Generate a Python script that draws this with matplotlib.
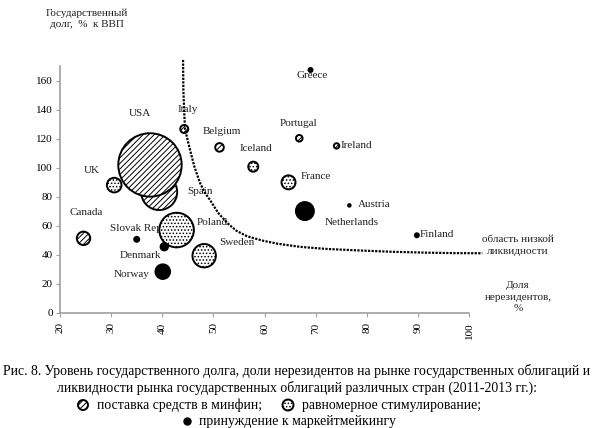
import matplotlib
matplotlib.use('Agg')
import matplotlib.pyplot as plt

plt.rcParams['font.family'] = ['Liberation Serif', 'DejaVu Serif']
plt.rcParams['hatch.linewidth'] = 0.7

# ---- data ----
countries = ['Spain', 'USA', 'Canada', 'Italy', 'Belgium', 'Portugal', 'Ireland',
             'UK', 'Poland', 'Sweden', 'Iceland', 'France',
             'Slovak Rep', 'Denmark', 'Norway', 'Netherlands', 'Greece', 'Austria', 'Finland']
nonres = [39.4, 37.6, 24.6, 44.3, 51.2, 66.8, 74.1,
          30.6, 42.8, 48.2, 57.8, 64.7,
          35.0, 40.4, 40.1, 67.9, 69.0, 76.6, 89.8]
debt = [83.2, 101.9, 51.3, 126.7, 114.0, 120.3, 115.0,
        88.0, 57.0, 39.3, 100.7, 89.9,
        50.6, 45.5, 28.3, 70.1, 167.4, 74.0, 53.4]
liquidity = [18.0, 31.7, 6.7, 4.0, 4.3, 3.3, 2.7,
             7.3, 17.3, 11.7, 5.0, 7.0,
             2.5, 3.7, 7.3, 9.0, 2.0, 1.3, 2.0]
group = ['hatch'] * 7 + ['dots'] * 5 + ['black'] * 7

# boundary of the low-liquidity area
curve_x = [44.07, 44.13, 44.3, 44.46, 45.0, 45.44, 46.3, 47.4, 48.3, 49.35, 50.9, 52.7,
           54.5, 56.6, 59.5, 62.5, 67.0, 72.0, 78.7, 85.0, 91.8, 97.0, 102.6]
curve_y = [174.3, 153.6, 138.0, 126.7, 118.5, 112.2, 100.5, 89.4, 83.0, 77.7, 69.0, 61.9,
           56.5, 52.7, 49.8, 47.6, 45.4, 44.0, 42.9, 42.0, 41.4, 41.1, 41.0]

x_ticks = [20, 30, 40, 50, 60, 70, 80, 90, 100]
y_ticks = [0, 20, 40, 60, 80, 100, 120, 140, 160]

W, H = 595, 428
fig = plt.figure(figsize=(W / 100, H / 100), dpi=100)
ax = fig.add_axes([60 / W, 1 - 312.7 / H, 409 / W, (312.7 - 66.2) / H])
ax.set_xlim(20, 100)
ax.set_ylim(0, 170)

for side in ('top', 'right'):
    ax.spines[side].set_visible(False)
for side in ('left', 'bottom'):
    ax.spines[side].set_color('#a0a0a0')
    ax.spines[side].set_linewidth(1.2)
ax.set_xticks(x_ticks)
ax.set_xticklabels([str(v) for v in x_ticks], rotation=90)
ax.set_yticks(y_ticks)
ax.tick_params(direction='out', length=3, color='#a0a0a0', labelsize=8, pad=2)
ax.tick_params(axis='x', pad=4)

styles = {
    'hatch': dict(facecolor='white', hatch='//////'),
    'dots': dict(facecolor='white', hatch='.....'),
    'black': dict(facecolor='black'),
}
for g in ['hatch', 'dots', 'black']:
    xs = [x for x, gg in zip(nonres, group) if gg == g]
    ys = [y for y, gg in zip(debt, group) if gg == g]
    ss = [(1.44 * r) ** 2 for r, gg in zip(liquidity, group) if gg == g]
    ax.scatter(xs, ys, s=ss, edgecolor='black', linewidth=1.4, zorder=3, **styles[g])

ax.plot(curve_x, curve_y, linestyle=(0, (1, 0.6)), color='black', linewidth=1.6,
        clip_on=False, zorder=5)

labels = {
    'USA': (35.66, 137.7, 'center'), 'Italy': (45.05, 139.8, 'center'),
    'Belgium': (51.64, 125.3, 'center'), 'Iceland': (58.36, 112.9, 'center'),
    'Portugal': (66.58, 130.8, 'center'), 'Greece': (69.26, 163.4, 'center'),
    'Ireland': (74.8, 115.0, 'left'), 'France': (70.1, 93.6, 'center'),
    'Austria': (81.45, 74.3, 'center'), 'Netherlands': (77.1, 61.9, 'center'),
    'Finland': (93.8, 53.6, 'center'), 'UK': (26.26, 98.4, 'center'),
    'Spain': (47.4, 83.4, 'center'), 'Canada': (25.1, 68.8, 'center'),
    'Slovak Rep': (34.8, 58.2, 'center'), 'Poland': (49.7, 62.1, 'center'),
    'Sweden': (54.6, 48.3, 'center'), 'Denmark': (35.66, 39.3, 'center'),
    'Norway': (34.1, 26.5, 'center'),
}
for name, (lx, ly, ha) in labels.items():
    z = 2 if name == 'Slovak Rep' else 4
    ax.text(lx, ly, name, fontsize=8, ha=ha, va='center', color='#222222', zorder=z)

def px(x, y):
    return x / W, 1 - y / H

fig.text(*px(518, 245.5), 'область низкой\nликвидности', fontsize=8, ha='center',
         va='center', linespacing=1.4, color='#222222')
fig.text(*px(518, 297), 'Доля\nнерезидентов,\n%', fontsize=8, ha='center',
         va='center', linespacing=1.4, color='#222222')
fig.text(*px(87, 19), 'Государственный\nдолг,  %  к ВВП', fontsize=8, ha='center',
         va='center', linespacing=1.3, color='#222222')

cap = 9.9
fig.text(*px(297, 371), 'Рис. 8. Уровень государственного долга, доли нерезидентов на рынке '
         'государственных облигаций и', fontsize=cap, ha='center', va='center')
fig.text(*px(297, 388), 'ликвидности рынка государственных облигаций различных стран '
         '(2011-2013 гг.):', fontsize=cap, ha='center', va='center')
fig.text(*px(97, 405), 'поставка средств в минфин;', fontsize=cap, ha='left', va='center')
fig.text(*px(302, 405), 'равномерное стимулирование;', fontsize=cap, ha='left', va='center')
fig.text(*px(199, 421), 'принуждение к маркейтмейкингу', fontsize=cap, ha='left', va='center')

lax = fig.add_axes([0, 0, 1, 1], zorder=-1)
lax.set_xlim(0, W)
lax.set_ylim(H, 0)
lax.axis('off')
lax.scatter([83], [405], s=(1.44 * 5) ** 2, facecolor='white', edgecolor='black',
            linewidth=1.4, hatch='//////')
lax.scatter([288], [405], s=(1.44 * 5.5) ** 2, facecolor='white', edgecolor='black',
            linewidth=1.4, hatch='.....')
lax.scatter([187], [421], s=(1.44 * 3.5) ** 2, facecolor='black', edgecolor='black')

fig.savefig('out.png', dpi=100)
